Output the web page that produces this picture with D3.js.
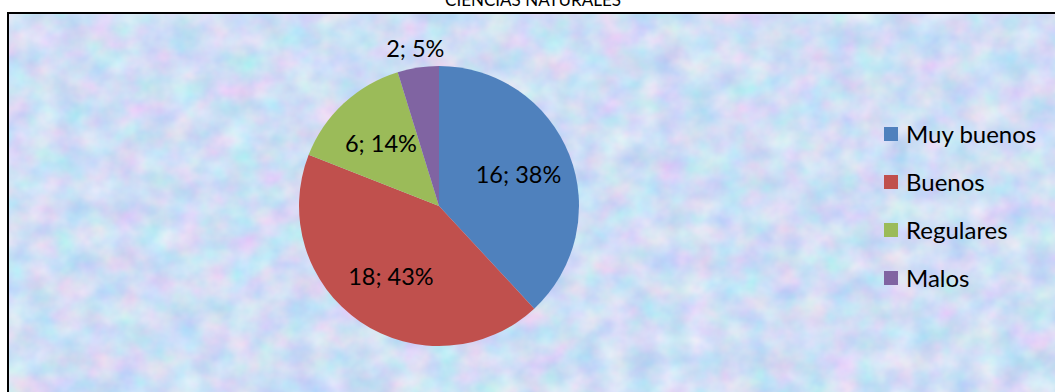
<!DOCTYPE html>
<html>
<head>
<meta charset="utf-8">
<script src="https://cdn.jsdelivr.net/npm/d3@7"></script>
<style>
  html, body { margin: 0; padding: 0; background: #fff; }
  svg { display: block; font-family: Lato, "Open Sans", sans-serif; }
</style>
</head>
<body>
<svg id="chart" width="1055" height="392"></svg>
<script>
// Chart content
const title = "CIENCIAS NATURALES";
const categories = ["Muy buenos", "Buenos", "Regulares", "Malos"];
const values = [16, 18, 6, 2];
const colors = ["#4F81BD", "#C0504D", "#9BBB59", "#8064A2"];

const W = 1055, H = 392;
const svg = d3.select("#chart");

// Pastel mottled backdrop inside the chart frame
const defs = svg.append("defs");
const f = defs.append("filter").attr("id", "paper")
  .attr("color-interpolation-filters", "sRGB")
  .attr("x", 0).attr("y", 0).attr("width", "100%").attr("height", "100%");
f.append("feTurbulence").attr("type", "fractalNoise")
  .attr("baseFrequency", "0.035 0.04").attr("numOctaves", 4).attr("seed", 11);
f.append("feColorMatrix").attr("type", "matrix").attr("values",
  "0.32 0 0 0 0.65  " +
  "0 0.20 0 0 0.77  " +
  "0 0 0.08 0 0.92  " +
  "0 0 0 0 1");
f.append("feGaussianBlur").attr("stdDeviation", 0.8);

const frame = { x: 8, y: 13, w: W - 8 + 4, h: H - 13 + 4 };
svg.append("rect")
  .attr("x", frame.x).attr("y", frame.y)
  .attr("width", frame.w).attr("height", frame.h)
  .attr("filter", "url(#paper)");
svg.append("rect")
  .attr("x", frame.x).attr("y", frame.y)
  .attr("width", frame.w).attr("height", frame.h)
  .attr("fill", "none").attr("stroke", "#000").attr("stroke-width", 2);

// Title, sitting above the frame
svg.append("text")
  .attr("x", 533).attr("y", 6)
  .attr("text-anchor", "middle")
  .attr("font-size", 17)
  .attr("fill", "#000")
  .text(title);

// Pie
const cx = 439, cy = 206, r = 140;
const total = d3.sum(values);
const pie = d3.pie().sort(null).value(d => d)(values);
const arc = d3.arc().innerRadius(0).outerRadius(r);
const inLabel = d3.arc().innerRadius(r * 0.61).outerRadius(r * 0.61);
const outLabel = d3.arc().innerRadius(r + 19).outerRadius(r + 19);

const g = svg.append("g").attr("transform", `translate(${cx},${cy})`);
g.selectAll("path.slice").data(pie).join("path")
  .attr("class", "slice")
  .attr("d", arc)
  .attr("fill", (d, i) => colors[i]);

g.selectAll("text.lbl").data(pie).join("text")
  .attr("class", "lbl")
  .attr("transform", d => {
    const share = d.value / total;
    const p = share < 0.1 ? outLabel.centroid(d) : inLabel.centroid(d);
    return `translate(${p[0]},${p[1]})`;
  })
  .attr("text-anchor", "middle")
  .attr("dy", "0.36em")
  .attr("font-size", 23.5)
  .attr("fill", "#000")
  .text(d => `${d.value}; ${Math.round(d.value / total * 100)}%`);

// Legend
const ly = d3.scaleBand().domain(categories).range([110, 302]);
const leg = svg.append("g");
const rows = leg.selectAll("g").data(categories).join("g")
  .attr("transform", d => `translate(884,${ly(d) + ly.bandwidth() / 2})`);
rows.append("rect")
  .attr("x", 0).attr("y", -7).attr("width", 14).attr("height", 14)
  .attr("fill", (d, i) => colors[i]);
rows.append("text")
  .attr("x", 22).attr("dy", "0.36em")
  .attr("font-size", 24)
  .attr("fill", "#000")
  .text(d => d);
</script>
</body>
</html>
